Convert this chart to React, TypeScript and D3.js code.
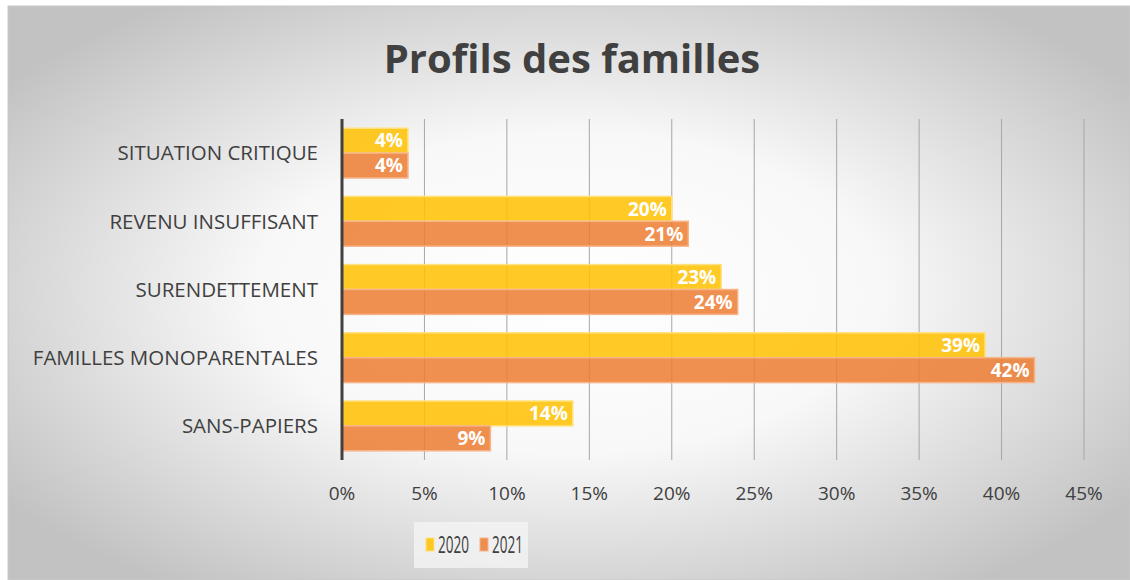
import React from "react";
import { scaleLinear, scaleBand, range } from "d3";

const categories = [
  "SITUATION CRITIQUE",
  "REVENU INSUFFISANT",
  "SURENDETTEMENT",
  "FAMILLES MONOPARENTALES",
  "SANS-PAPIERS",
];
const years = ["2020", "2021"];
const values2020 = [4, 20, 23, 39, 14];
const values2021 = [4, 21, 24, 42, 9];
const ticks = range(0, 50, 5);

const colors = ["#FFC000", "#ED7D31"];
const strokes = ["#FFE27F", "#F6B48A"];
const font = "'Open Sans', 'DejaVu Sans', sans-serif";

export default function App() {
  const W = 1130;
  const H = 580;

  const x = scaleLinear().domain([0, 45]).range([342, 1084]);
  const y = scaleBand().domain(categories).range([119, 460]).paddingInner(0.27).paddingOuter(0.135);
  const sub = scaleBand().domain(years).range([0, y.bandwidth()]);

  const series = [values2020, values2021];

  return (
    <svg
      width={W}
      height={H}
      style={{ position: "absolute", left: 0, top: 0, display: "block" }}
    >
      <defs>
        <radialGradient id="bg" cx="50%" cy="50%" r="62%">
          <stop offset="0%" stopColor="#ffffff" />
          <stop offset="45%" stopColor="#f8f8f8" />
          <stop offset="100%" stopColor="#c2c2c2" />
        </radialGradient>
      </defs>
      <rect x={0} y={0} width={W} height={H} fill="#ffffff" />
      <rect x={8} y={6} width={W - 8} height={H - 6} fill="url(#bg)" stroke="#c8c8c8" />

      <text
        x={572}
        y={73}
        textAnchor="middle"
        fontFamily={font}
        fontWeight="bold"
        fontSize={40}
        fill="#404040"
      >
        Profils des familles
      </text>

      {ticks.slice(1).map((t) => (
        <line key={t} x1={x(t)} x2={x(t)} y1={119} y2={460} stroke="#a6a6a6" strokeWidth={1} />
      ))}

      {categories.map((c, i) => (
        <g key={c}>
          {series.map((vals, s) => {
            const by = (y(c) as number) + (sub(years[s]) as number);
            return (
              <g key={years[s]}>
                <rect
                  x={x(0)}
                  y={by}
                  width={x(vals[i]) - x(0)}
                  height={sub.bandwidth()}
                  fill={colors[s]}
                  fillOpacity={0.85}
                  stroke={strokes[s]}
                  strokeWidth={1.5}
                />
                <text
                  x={x(vals[i]) - 5}
                  y={by + sub.bandwidth() / 2}
                  dy="0.36em"
                  textAnchor="end"
                  fontFamily={font}
                  fontWeight="bold"
                  fontSize={19}
                  fill="#ffffff"
                >
                  {vals[i]}%
                </text>
              </g>
            );
          })}
          <text
            x={318}
            y={(y(c) as number) + y.bandwidth() / 2}
            dy="0.36em"
            textAnchor="end"
            fontFamily={font}
            fontSize={20.5}
            fill="#404040"
          >
            {c}
          </text>
        </g>
      ))}

      <line x1={x(0)} x2={x(0)} y1={119} y2={460} stroke="#404040" strokeWidth={3} />

      {ticks.map((t) => (
        <text
          key={t}
          x={x(t)}
          y={493}
          dy="0.36em"
          textAnchor="middle"
          fontFamily={font}
          fontSize={19}
          fill="#404040"
        >
          {t}%
        </text>
      ))}

      <rect x={414} y={522} width={114} height={46} fill="#f4f4f4" fillOpacity={0.8} />
      {years.map((yr, s) => (
        <g key={yr} transform={`translate(${426 + s * 54},538)`}>
          <rect width={8} height={13} fill={colors[s]} fillOpacity={0.85} stroke={strokes[s]} />
          <text
            x={12}
            y={7}
            dy="0.36em"
            fontFamily={font}
            fontSize={23}
            fill="#404040"
            textLength={31}
            lengthAdjust="spacingAndGlyphs"
          >
            {yr}
          </text>
        </g>
      ))}
    </svg>
  );
}
